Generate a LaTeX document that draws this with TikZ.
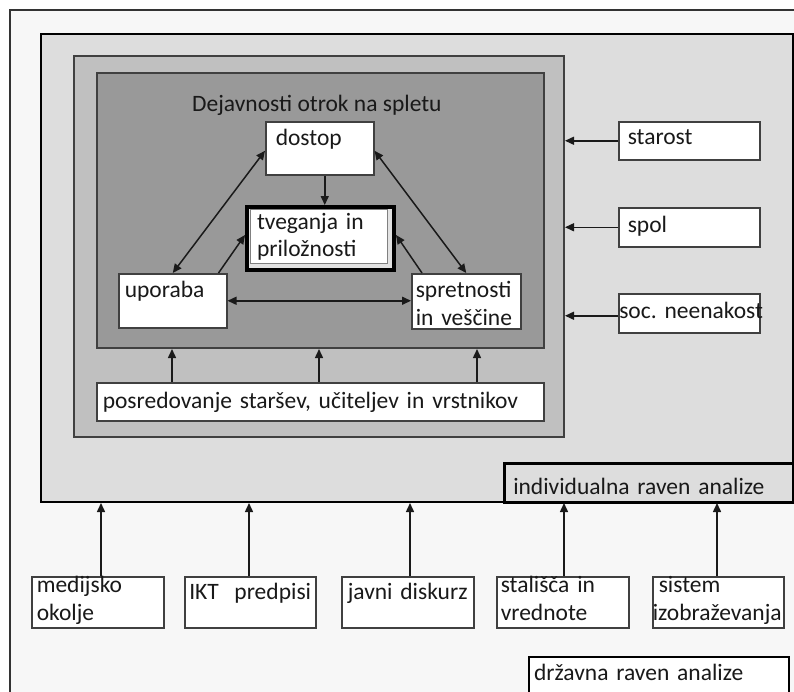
\documentclass[tikz,border=0pt]{standalone}
\usepackage{fontspec}
\setmainfont{Carlito}
\usetikzlibrary{arrows.meta}
\definecolor{framebg}{HTML}{F7F7F7}
\definecolor{indivbg}{HTML}{DDDDDD}
\definecolor{midbg}{HTML}{C0C0C0}
\definecolor{innerbg}{HTML}{999999}
\definecolor{boxline}{HTML}{404040}
\definecolor{arrowc}{HTML}{1A1A1A}
\definecolor{ringbg}{HTML}{E2E2E2}
\definecolor{ringline}{HTML}{808080}
\newcommand\twol[2]{\begin{tabular}[t]{@{}l@{}}#1\\#2\end{tabular}}
\frenchspacing
\begin{document}
\begin{tikzpicture}[x=1pt,y=-1pt,
  font=\fontsize{23.5}{27.5}\selectfont,
  every node/.style={text=black!90},
  area/.style={anchor=north west, inner sep=0pt, line width=2pt},
  box/.style={draw=boxline, line width=1.5pt, fill=white, anchor=north west, inner ysep=0pt, align=left},
  arr/.style={line width=1.5pt, draw=arrowc, -{Triangle[length=9pt,width=8pt]}},
  darr/.style={line width=1.5pt, draw=arrowc, {Triangle[length=9pt,width=8pt]}-{Triangle[length=9pt,width=8pt]}}]
\useasboundingbox (0,0) rectangle (794,691);
\fill[white] (0,0) rectangle (794,691);
% outer frame (state level)
\fill[framebg] (10,10) rectangle (800,700);
\draw[line width=2pt, draw=black!80] (10,700) -- (10,10) -- (800,10);
% individual level
\node (indiv) [area, draw=black, fill=indivbg, minimum width=752pt, minimum height=468pt] at (40,33) {};
\node (indivlab) [box, draw=black, fill=indivbg, line width=2.5pt, text width=271pt, inner xsep=9pt, text height=31pt, text depth=8pt] at (503,462) {individualna raven analize};
% mid and inner areas
\node (mid) [area, draw=boxline, fill=midbg, minimum width=490pt, minimum height=381pt] at (73,55) {};
\node (inner) [area, draw=boxline, fill=innerbg, minimum width=447pt, minimum height=275pt] at (96,72) {};
\node (title) [anchor=base west, inner sep=0pt] at (192,111) {Dejavnosti otrok na spletu};
% central boxes
\node (dostop) [box, text width=88pt, inner xsep=10pt, text height=24pt, text depth=29pt] at (265,121) {dostop};
\fill[ringbg] (245,205) rectangle (392,268);
\draw[fill=white, draw=ringline, line width=1pt] (250,209.5) rectangle (387.5,263.5);
\node (tveg) [box, fill=none, draw=black, line width=4pt, text width=127pt, inner xsep=10pt, text height=22pt, text depth=41pt] at (245,205) {\twol{tveganja in}{priložnosti}};
\node (uporaba) [box, text width=96pt, inner xsep=6pt, text height=24pt, text depth=30pt] at (118,273) {uporaba};
\node (spret) [box, text width=101pt, inner xsep=4pt, text height=24pt, text depth=31pt] at (411,273) {\twol{spretnosti}{in veščine}};
% right boxes
\node (starost) [box, text width=123pt, inner xsep=9pt, text height=23pt, text depth=15pt] at (618,121) {starost};
\node (spol) [box, text width=123pt, inner xsep=9pt, text height=25pt, text depth=14pt] at (618,207) {spol};
\node (soc) [box, text width=140pt, inner xsep=0.5pt, text height=25pt, text depth=14pt] at (618,293) {\mbox{soc.\ neenakost}};
% mediation box
\node (posred) [box, text width=435pt, inner xsep=6pt, text height=26pt, text depth=12pt] at (96,382) {posredovanje staršev, učiteljev in vrstnikov};
% bottom boxes
\node (medij) [box, text width=122pt, inner xsep=5pt, text height=16pt, text depth=35pt] at (31,576) {\twol{medijsko}{okolje}};
\node (ikt) [box, text width=122pt, inner xsep=4.5pt, text height=23pt, text depth=28pt] at (184,576) {IKT~~predpisi};
\node (javni) [box, text width=120pt, inner xsep=6pt, text height=23pt, text depth=28pt] at (341,576) {javni diskurz};
\node (stal) [box, text width=124pt, inner xsep=4pt, text height=16pt, text depth=35pt] at (496,576) {\twol{stališča in}{vrednote}};
\node (sistem) [box, text width=131pt, inner xsep=0pt, text height=16pt, text depth=35pt] at (652,576) {\twol{\hspace*{6pt}sistem}{izobraževanja}};
% state level label
\node (drzava) [box, draw=black, line width=2pt, text width=250pt, inner xsep=5pt, text height=23pt, text depth=30pt] at (528,656) {državna raven analize};
% triangle arrows
\draw[darr] ([yshift=-2.5pt]dostop.west) -- (uporaba.north);
\draw[darr] ([yshift=-2.5pt]dostop.east) -- (spret.north);
\coordinate (d1) at ([xshift=5pt]dostop.south);
\draw[arr] (d1) -- (d1 |- tveg.north);
\draw[arr] ([xshift=-9pt]uporaba.north east) -- ([yshift=3.5pt]tveg.west);
\draw[arr] ([xshift=11pt]spret.north west) -- ([yshift=3.5pt]tveg.east);
\draw[darr] (uporaba.east) -- (uporaba.east -| spret.west);
% right arrows
\draw[arr] (starost.west) -- (starost.west -| mid.east);
\draw[arr] (spol.west) -- (spol.west -| mid.east);
\draw[arr] ([yshift=-2.5pt]soc.west) -- ([yshift=-2.5pt]soc.west -| mid.east);
% mediation arrows
\coordinate (q1) at ([xshift=76pt]posred.north west);
\coordinate (q2) at ([xshift=223pt]posred.north west);
\coordinate (q3) at ([xshift=381pt]posred.north west);
\draw[arr] (q1) -- (q1 |- inner.south);
\draw[arr] (q2) -- (q2 |- inner.south);
\draw[arr] (q3) -- (q3 |- inner.south);
% bottom arrows
\coordinate (b1) at ([xshift=70pt]medij.north west);
\coordinate (b2) at ([xshift=65pt]ikt.north west);
\coordinate (b3) at ([xshift=69pt]javni.north west);
\coordinate (b4) at ([xshift=68pt]stal.north west);
\coordinate (b5) at ([xshift=65pt]sistem.north west);
\draw[arr] (b1) -- (b1 |- indiv.south);
\draw[arr] (b2) -- (b2 |- indiv.south);
\draw[arr] (b3) -- (b3 |- indiv.south);
\draw[arr] (b4) -- (b4 |- indiv.south);
\draw[arr] (b5) -- (b5 |- indiv.south);
\end{tikzpicture}
\end{document}
